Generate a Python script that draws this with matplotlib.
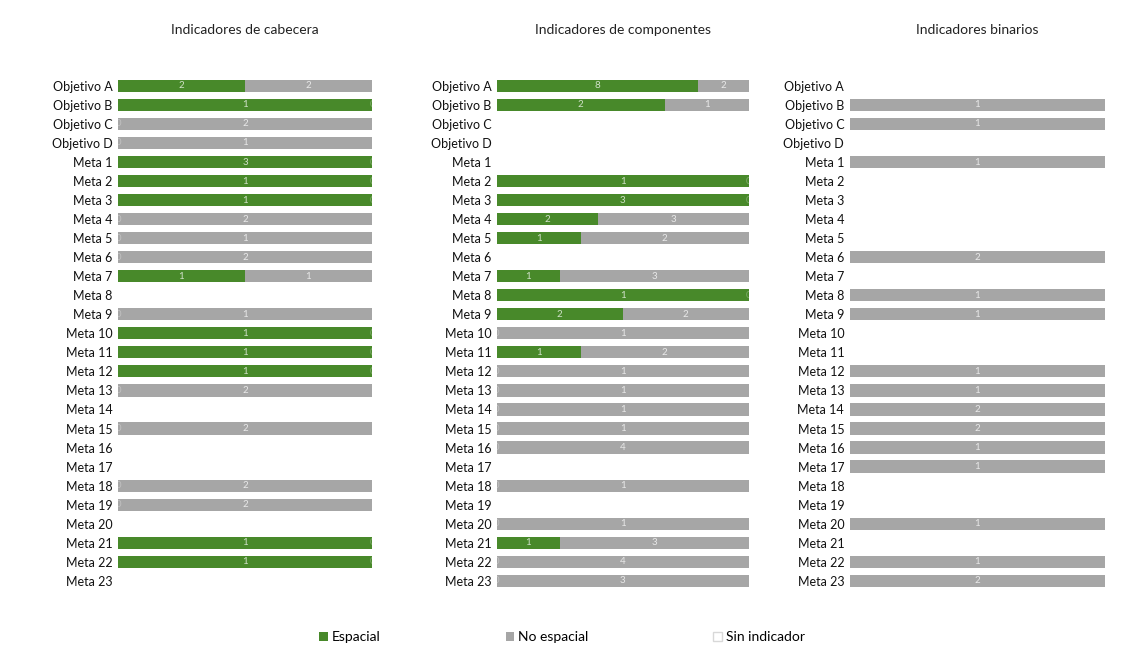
import numpy as np
import matplotlib
matplotlib.use("Agg")
import matplotlib.pyplot as plt
from matplotlib.patches import Patch

plt.rcParams['font.family'] = ['Lato', 'DejaVu Sans']

rows = ["Objetivo A", "Objetivo B", "Objetivo C", "Objetivo D"] + ["Meta %d" % i for i in range(1, 24)]

titles = ["Indicadores de cabecera", "Indicadores de componentes", "Indicadores binarios"]

# Indicadores de cabecera
cab_esp = [2, 1, 0, 0, 3, 1, 1, 0, 0, 0, 1, 0, 0, 1, 1, 1, 0, 0, 0, 0, 0, 0, 0, 0, 1, 1, 0]
cab_noesp = [2, 0, 2, 1, 0, 0, 0, 2, 1, 2, 1, 0, 1, 0, 0, 0, 2, 0, 2, 0, 0, 2, 2, 0, 0, 0, 0]
cab_sin = [0, 0, 0, 0, 0, 0, 0, 0, 0, 0, 0, 1, 0, 0, 0, 0, 0, 1, 0, 1, 1, 0, 0, 1, 0, 0, 1]

# Indicadores de componentes
com_esp = [8, 2, 0, 0, 0, 1, 3, 2, 1, 0, 1, 1, 2, 0, 1, 0, 0, 0, 0, 0, 0, 0, 0, 0, 1, 0, 0]
com_noesp = [2, 1, 0, 0, 0, 0, 0, 3, 2, 0, 3, 0, 2, 1, 2, 1, 1, 1, 1, 4, 0, 1, 0, 1, 3, 4, 3]
com_sin = [0, 0, 1, 1, 1, 0, 0, 0, 0, 1, 0, 0, 0, 0, 0, 0, 0, 0, 0, 0, 1, 0, 1, 0, 0, 0, 0]

# Indicadores binarios
bin_esp = [0] * 27
bin_noesp = [0, 1, 1, 0, 1, 0, 0, 0, 0, 2, 0, 1, 1, 0, 0, 1, 1, 2, 2, 1, 1, 0, 0, 1, 0, 1, 2]
bin_sin = [1, 0, 0, 1, 0, 1, 1, 1, 1, 0, 1, 0, 0, 1, 1, 0, 0, 0, 0, 0, 0, 1, 1, 0, 1, 0, 0]

panels = [(cab_esp, cab_noesp, cab_sin), (com_esp, com_noesp, com_sin), (bin_esp, bin_noesp, bin_sin)]

c_esp = '#48892a'
c_noesp = '#a6a6a6'
c_sin = '#ffffff'
lbl_col = (1, 1, 1, 0.75)
zero_col = (1, 1, 1, 0.3)

fig = plt.figure(figsize=(11.24, 6.64), dpi=100)

axes_x = [(0.105, 0.226), (0.442, 0.224), (0.756, 0.227)]

y = np.arange(len(rows))
for (x0, w), title, (esp, noesp, sin) in zip(axes_x, titles, panels):
    ax = fig.add_axes([x0, 0.111, w, 0.774])
    esp = np.array(esp, float)
    noesp = np.array(noesp, float)
    sin = np.array(sin, float)
    tot = esp + noesp + sin
    fe = esp / tot
    fn = noesp / tot
    fs = sin / tot
    ax.barh(y, fe, height=0.64, color=c_esp)
    ax.barh(y, fn, left=fe, height=0.64, color=c_noesp)
    ax.barh(y, fs, left=fe + fn, height=0.64, color=c_sin)
    for i in range(len(rows)):
        if sin[i] > 0:
            continue
        if title != titles[2] or esp[i] > 0:
            ax.text(fe[i] / 2, y[i], "%d" % esp[i], ha='center', va='center',
                    fontsize=7, color=lbl_col if esp[i] > 0 else zero_col)
        ax.text(fe[i] + fn[i] / 2, y[i], "%d" % noesp[i], ha='center', va='center',
                fontsize=7, color=lbl_col if noesp[i] > 0 else zero_col)
    ax.set_xlim(0, 1)
    ax.set_ylim(len(rows) - 0.5, -0.5)
    ax.set_yticks(y)
    ax.set_yticklabels(rows, fontsize=9, color='#111111')
    ax.set_xticks([])
    ax.tick_params(axis='y', length=0, pad=4)
    for s in ax.spines.values():
        s.set_visible(False)
    fig.text(x0 + w / 2, 0.955, title, ha='center', va='center', fontsize=10, color='#222222')

handles = [Patch(facecolor=c_esp, label='Espacial'),
           Patch(facecolor=c_noesp, label='No espacial'),
           Patch(facecolor=c_sin, edgecolor='#d8d8d8', label='Sin indicador')]
fig.legend(handles=handles, loc='center', bbox_to_anchor=(0.5, 0.04), ncol=3, frameon=False,
           fontsize=10, handlelength=0.6, handleheight=0.6, handletextpad=0.3, columnspacing=9)

fig.savefig('out.png', dpi=100)
